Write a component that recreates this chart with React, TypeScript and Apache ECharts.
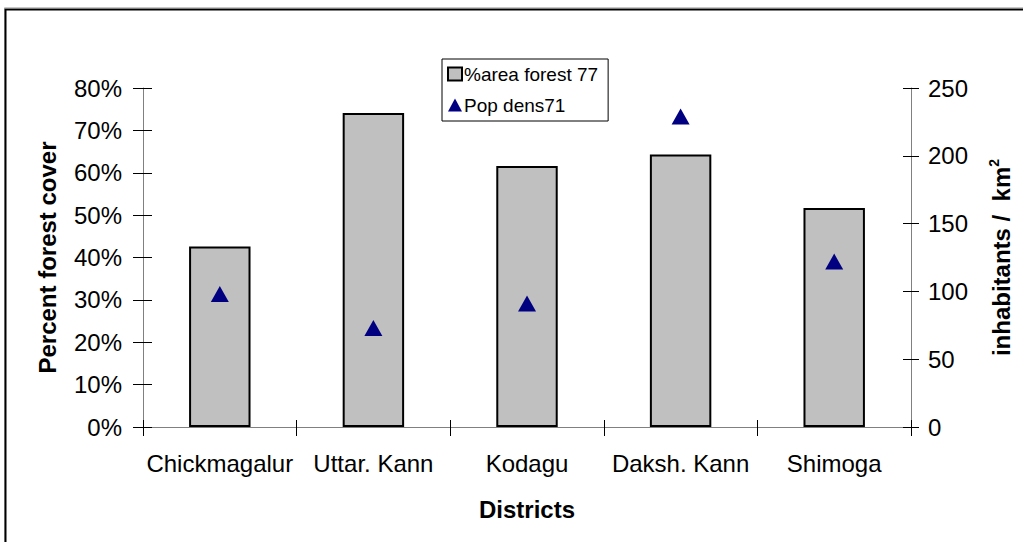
import React, { useEffect, useRef } from "react";
import * as echarts from "echarts";

// Districts of the Western Ghats region
const districts = ["Chickmagalur", "Uttar. Kann", "Kodagu", "Daksh. Kann", "Shimoga"];
// Share of district area under forest, 1977 (%)
const forestCover77 = [42.6, 74.1, 61.6, 64.3, 51.7];
// Population density, 1971 (inhabitants per km²)
const popDensity71 = [98, 73, 91, 229, 122];

const FONT = "'Liberation Sans', Arial, sans-serif";

export default function App() {
  const ref = useRef<HTMLDivElement>(null);

  useEffect(() => {
    if (!ref.current) return;
    const chart = echarts.init(ref.current, null, { renderer: "svg" });

    const tickLine = { lineStyle: { color: "#000", width: 1 } };
    const axisLine = { show: true, lineStyle: { color: "#808080", width: 1 } };
    const labelStyle = { color: "#000", fontSize: 24, fontFamily: FONT };
    const nameStyle = { color: "#000", fontSize: 24, fontWeight: "bold" as const, fontFamily: FONT };

    chart.setOption({
      animation: false,
      backgroundColor: "#fff",
      textStyle: { fontFamily: FONT },
      graphic: [
        {
          type: "rect",
          shape: { x: 4.5, y: 7.5, width: 1100, height: 600 },
          style: { fill: "none", stroke: "#c8c8c8", lineWidth: 1 },
          silent: true,
        },
        {
          type: "rect",
          shape: { x: 5.5, y: 9.5, width: 1100, height: 600 },
          style: { fill: "none", stroke: "#000", lineWidth: 2 },
          silent: true,
        },
      ],
      legend: {
        left: 442,
        top: 59,
        orient: "vertical",
        backgroundColor: "#fff",
        borderColor: "#000",
        borderWidth: 1,
        padding: [5, 10, 6, 5],
        itemWidth: 14,
        itemHeight: 13,
        itemGap: 11,
        textStyle: { color: "#000", fontSize: 19, fontFamily: FONT, lineHeight: 20, padding: [0, 0, 0, -3] },
        data: [
          { name: "%area forest 77", icon: "rect", itemStyle: { color: "#c0c0c0", borderColor: "#000", borderWidth: 2, opacity: 1 } },
          { name: "Pop dens71", icon: "triangle", itemStyle: { color: "#000080", opacity: 1 } },
        ],
      },
      grid: { left: 143, right: 110, top: 88, bottom: 115 },
      xAxis: [
        {
          type: "category",
          data: districts,
          position: "bottom",
          boundaryGap: true,
          axisLine,
          axisTick: { show: true, length: 9, ...tickLine },
          axisLabel: { ...labelStyle, margin: 24, interval: 0 },
          name: "Districts",
          nameLocation: "middle",
          nameGap: 70,
          nameTextStyle: nameStyle,
        },
        {
          type: "category",
          data: districts,
          position: "bottom",
          boundaryGap: true,
          axisLine: { show: false },
          axisTick: { show: true, inside: true, length: 7, ...tickLine },
          axisLabel: { show: false },
        },
      ],
      yAxis: [
        {
          type: "value",
          position: "left",
          min: 0,
          max: 80,
          interval: 10,
          splitLine: { show: false },
          axisLine,
          axisTick: { show: true, length: 10, ...tickLine },
          axisLabel: { ...labelStyle, margin: 21, formatter: "{value}%" },
          name: "Percent forest cover",
          nameLocation: "middle",
          nameRotate: 90,
          nameGap: 84,
          nameTextStyle: nameStyle,
        },
        {
          type: "value",
          position: "right",
          min: 0,
          max: 250,
          interval: 50,
          splitLine: { show: false },
          axisLine,
          axisTick: { show: true, length: 8, ...tickLine },
          axisLabel: { ...labelStyle, margin: 17 },
          name: "inhabitants /  km{sup|2}",
          nameLocation: "middle",
          nameRotate: 90,
          nameGap: 76,
          nameTextStyle: {
            ...nameStyle,
            lineHeight: 28,
            rich: {
              sup: { fontSize: 14, fontWeight: "bold", fontFamily: FONT, color: "#000", verticalAlign: "top", lineHeight: 14 },
            },
          },
        },
        {
          type: "value",
          position: "left",
          min: 0,
          max: 80,
          interval: 10,
          splitLine: { show: false },
          axisLine: { show: false },
          axisTick: { show: true, inside: true, length: 9, ...tickLine },
          axisLabel: { show: false },
        },
        {
          type: "value",
          position: "right",
          min: 0,
          max: 250,
          interval: 50,
          splitLine: { show: false },
          axisLine: { show: false },
          axisTick: { show: true, inside: true, length: 8, ...tickLine },
          axisLabel: { show: false },
        },
      ],
      series: [
        {
          name: "%area forest 77",
          type: "bar",
          xAxisIndex: 0,
          yAxisIndex: 0,
          data: forestCover77,
          barCategoryGap: "60%",
          itemStyle: { color: "#c0c0c0", borderColor: "#000", borderWidth: 2 },
        },
        {
          name: "Pop dens71",
          type: "scatter",
          xAxisIndex: 0,
          yAxisIndex: 1,
          data: popDensity71,
          symbol: "triangle",
          symbolSize: [18, 16],
          itemStyle: { color: "#000080", opacity: 1 },
          z: 5,
        },
      ],
    });

    return () => chart.dispose();
  }, []);

  return (
    <div
      ref={ref}
      style={{ position: "fixed", left: 0, top: 0, width: 1023, height: 542, background: "#fff" }}
    />
  );
}
